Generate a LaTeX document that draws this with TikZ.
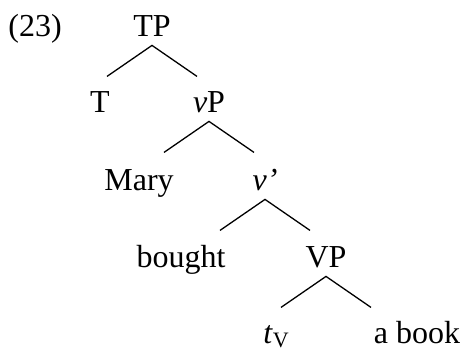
\documentclass[tikz,border=0pt]{standalone}
\usepackage{fontspec}
\setmainfont{Liberation Serif}
\tikzset{
  cat/.style={anchor=base, inner sep=4.5pt, text depth=0pt, font=\fontsize{16}{19}\selectfont},
  leaf/.style={cat, inner sep=0pt},
  exnum/.style={anchor=base west, inner sep=0pt, font=\fontsize{16}{19}\selectfont},
  branch/.style={line width=0.65pt}
}

\begin{document}
\begin{tikzpicture}[x=0.5pt, y=-0.5pt]
\useasboundingbox (0,0) rectangle (465,349);
\node[exnum] (num) at (8,36) {(23)};
\node[cat] (tp) at (152,36) {TP};
\node[cat] (t) at (100,112) {T};
\node[cat] (vp) at (209,112) {\textit{v}P};
\node[cat] (mary) at (139,190) {Mary};
\node[cat] (vbar) at (265,190) {\textit{v’}};
\node[cat] (bought) at (181,267) {bought};
\node[cat] (bigvp) at (326,267) {VP};
\node[leaf] (trace) at (276,343) {\textit{t}\lower2pt\hbox{\fontsize{11}{12}\selectfont V}};
\node[leaf] (book) at (417,343) {a book};
% branches hang from each mother node
\foreach \n in {tp,vp,vbar,bigvp}{
  \path (\n.south) ++(-45,31) coordinate (\n-l) (\n.south) ++(45,31) coordinate (\n-r);
  \draw[branch] (\n-l) -- (\n.south) -- (\n-r);
}
\end{tikzpicture}
\end{document}
